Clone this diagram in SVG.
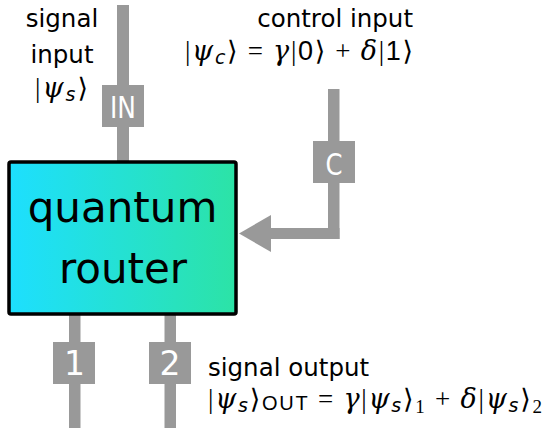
<svg xmlns="http://www.w3.org/2000/svg" width="545" height="428" viewBox="0 0 545 428">
<defs>
<linearGradient id="grad" x1="0" y1="0" x2="1" y2="0">
<stop offset="0" stop-color="#1ddfff"/>
<stop offset="1" stop-color="#2ce3a6"/>
</linearGradient>
<style>
.wire{fill:#999999}
.tag{fill:#999999}
.tagtxt{font-family:"DejaVu Sans",sans-serif;fill:#ffffff;text-anchor:middle}
.lbl{font-family:"DejaVu Sans",sans-serif;font-size:24.5px;fill:#000000}
.math{font-family:"Liberation Serif","DejaVu Serif",serif;font-size:27px;fill:#000000}
.m{font-family:"Liberation Serif","DejaVu Serif",serif}
.br{font-family:"DejaVu Sans",sans-serif;font-weight:normal}
.mi{font-family:"DejaVu Serif",serif;font-style:italic}
.ms{font-family:"DejaVu Sans",sans-serif;font-style:oblique}
.sf{font-family:"Liberation Sans",sans-serif}
.big{font-family:"DejaVu Sans",sans-serif;font-size:42px;fill:#000000;text-anchor:middle}
</style>
</defs>
<g id="connectors">
<rect class="wire" x="117" y="5" width="12" height="158"/>
<rect class="wire" x="328" y="89" width="11.5" height="150"/>
<rect class="wire" x="268" y="228" width="71.5" height="11"/>
<polygon class="wire" points="239,233.5 271,215 271,252"/>
<rect class="wire" x="69" y="313" width="11.5" height="115"/>
<rect class="wire" x="164.5" y="313" width="11.5" height="115"/>
</g>
<g id="router">
<rect x="9" y="162" width="227" height="152" rx="2" fill="url(#grad)" stroke="#000000" stroke-width="3.5"/>
<text class="big" x="122.5" y="222">quantum</text>
<text class="big" x="123" y="283">router</text>
</g>
<g id="port-in">
<rect class="tag" x="102" y="85" width="42" height="42"/>
<text class="tagtxt" x="123" y="117.5" font-size="31" textLength="26" lengthAdjust="spacingAndGlyphs">IN</text>
</g>
<g id="port-c">
<rect class="tag" x="313" y="141" width="42" height="42"/>
<text class="tagtxt" x="334" y="175" font-size="30" textLength="17" lengthAdjust="spacingAndGlyphs">C</text>
</g>
<g id="port-1">
<rect class="tag" x="53" y="342" width="42" height="42"/>
<text class="tagtxt" x="74.5" y="375" font-size="33">1</text>
</g>
<g id="port-2">
<rect class="tag" x="149" y="342" width="42" height="42"/>
<text class="tagtxt" x="170" y="375" font-size="33">2</text>
</g>
<g id="signal-input">
<text class="lbl" x="62" y="27" text-anchor="middle">signal</text>
<text class="lbl" x="62" y="63" text-anchor="middle">input</text>
<text class="math" x="61.5" y="97" text-anchor="middle" textLength="53" lengthAdjust="spacing"><tspan class="m">|</tspan><tspan class="mi">ψ</tspan><tspan class="ms" font-size="19" dy="4">s</tspan><tspan class="br" dy="-4">⟩</tspan></text>
</g>
<g id="control-input">
<text class="lbl" x="413" y="27" text-anchor="end">control input</text>
<text class="math" x="413" y="60" text-anchor="end" textLength="228" lengthAdjust="spacing"><tspan class="m">|</tspan><tspan class="mi">ψ</tspan><tspan class="ms" font-size="19" dy="4">c</tspan><tspan class="br" dy="-4">⟩</tspan><tspan class="m"> = </tspan><tspan class="mi">γ</tspan><tspan class="m">|</tspan><tspan class="sf">0</tspan><tspan class="br">⟩</tspan><tspan class="m"> + </tspan><tspan class="mi">δ</tspan><tspan class="m">|</tspan><tspan class="sf">1</tspan><tspan class="br">⟩</tspan></text>
</g>
<g id="signal-output">
<text class="lbl" x="208" y="376">signal output</text>
<text class="math" x="208" y="408" textLength="334" lengthAdjust="spacing"><tspan class="m">|</tspan><tspan class="mi">ψ</tspan><tspan class="ms" font-size="19" dy="4">s</tspan><tspan class="br" dy="-4">⟩</tspan><tspan class="sf" font-size="20" dy="2">OUT</tspan><tspan class="m" dy="-2"> = </tspan><tspan class="mi">γ</tspan><tspan class="m">|</tspan><tspan class="mi">ψ</tspan><tspan class="ms" font-size="19" dy="4">s</tspan><tspan class="br" dy="-4">⟩</tspan><tspan class="m" font-size="19" dy="5">1</tspan><tspan class="m" dy="-5"> + </tspan><tspan class="mi">δ</tspan><tspan class="m">|</tspan><tspan class="mi">ψ</tspan><tspan class="ms" font-size="19" dy="4">s</tspan><tspan class="br" dy="-4">⟩</tspan><tspan class="m" font-size="19" dy="5">2</tspan></text>
</g>
</svg>
